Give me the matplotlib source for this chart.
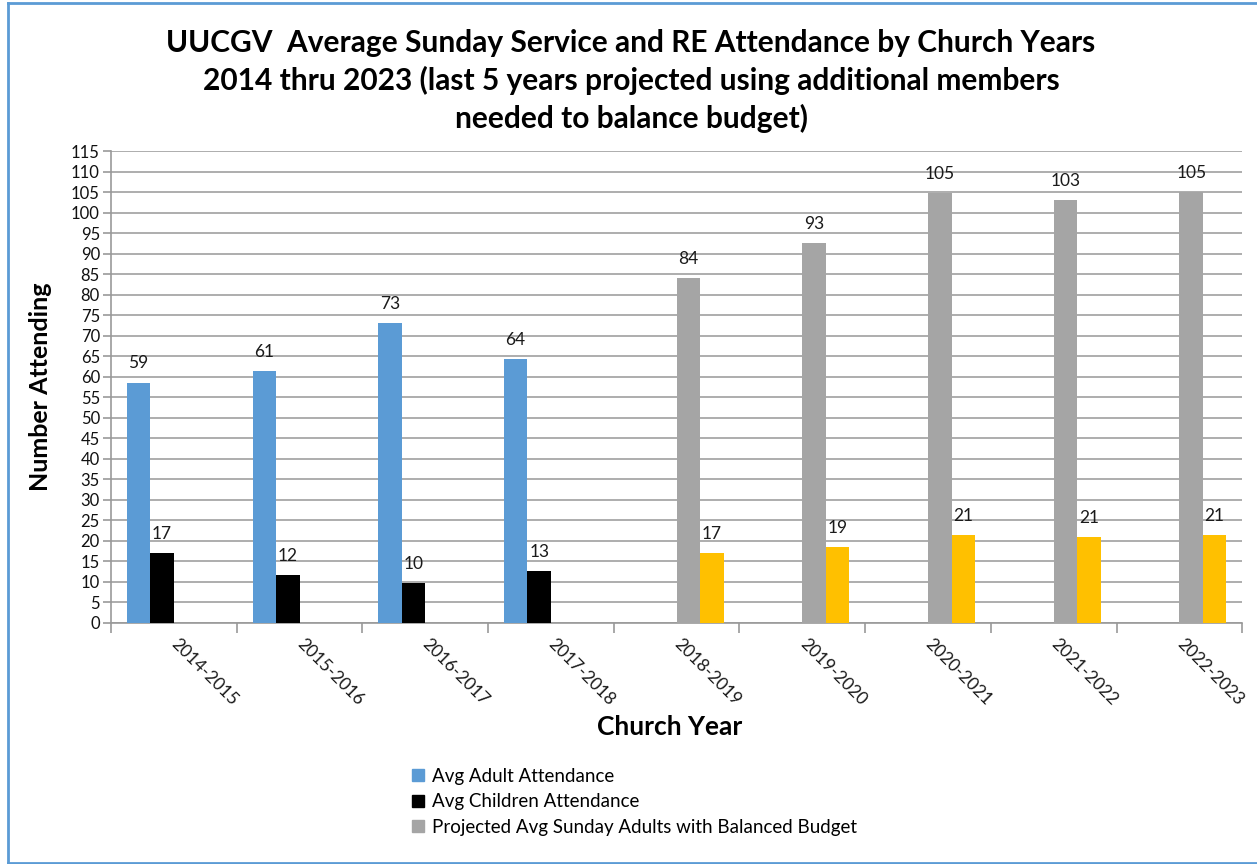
import numpy as np
import matplotlib
matplotlib.use("Agg")
import matplotlib.pyplot as plt
from matplotlib.lines import Line2D
from matplotlib.patches import Patch

categories = ["2014-2015", "2015-2016", "2016-2017", "2017-2018", "2018-2019",
              "2019-2020", "2020-2021", "2021-2022", "2022-2023"]
adult = [58.6, 61.3, 73.2, 64.4, None, None, None, None, None]
children = [17.0, 11.6, 9.8, 12.6, None, None, None, None, None]
proj_adult = [None, None, None, None, 84.1, 92.6, 104.8, 103.1, 105.0]
proj_children = [None, None, None, None, 17.0, 18.6, 21.4, 21.0, 21.4]
series_names = ["Avg Adult Attendance", "Avg Children Attendance",
                "Projected Avg Sunday Adults with Balanced Budget", "Projected Avg Sunday Children"]
colors = ["#5B9BD5", "#000000", "#A5A5A5", "#FFC000"]

plt.rcParams['font.family'] = ['Lato', 'DejaVu Sans']

fig = plt.figure(figsize=(12.57, 8.64), dpi=100)
ax = fig.add_axes([0.0883, 0.279, 0.9, 0.546])

x = np.arange(len(categories))
w = 0.187
offsets = [-1.5 * w, -0.5 * w, 0.5 * w, 1.5 * w]
all_series = [adult, children, proj_adult, proj_children]
handles = []
for s, off, c, name in zip(all_series, offsets, colors, series_names):
    vals = np.array([np.nan if v is None else v for v in s], dtype=float)
    ax.bar(x + off, vals, width=w, color=c, zorder=3)
    for xi, v in zip(x, vals):
        if not np.isnan(v):
            ax.annotate(f"{v:.0f}", (xi + off, v), xytext=(0, 8), textcoords="offset points",
                        ha="center", va="bottom", fontsize=12.5, color="#1a1a1a")
    handles.append(Patch(color=c, label=name))

ax.set_xlim(-0.5, len(categories) - 0.5)
ax.set_ylim(0, 115)
ax.set_yticks(np.arange(0, 116, 5))
ax.tick_params(axis='y', labelsize=12, length=6, color="#999999", width=1.2, pad=2,
               labelcolor="#111111")
ax.yaxis.grid(True, color="#A0A0A0", linewidth=1.2, zorder=0)
ax.set_axisbelow(True)

ax.set_xticks(np.arange(-0.5, len(categories), 1.0))
ax.set_xticklabels([])
ax.tick_params(axis='x', length=7, color="#999999", width=1.2)
for xi, lab in zip(x, categories):
    ax.text(xi, -4.5, lab, rotation=-45, rotation_mode="anchor", ha="left", va="center",
            fontsize=12.5, color="#1a1a1a", transform=ax.transData, clip_on=False)

for sp in ["top", "right"]:
    ax.spines[sp].set_visible(False)
ax.spines["left"].set_color("#999999")
ax.spines["bottom"].set_color("#999999")
ax.spines["left"].set_linewidth(1.2)
ax.spines["bottom"].set_linewidth(1.2)

fig.text(0.502, 0.967, "UUCGV  Average Sunday Service and RE Attendance by Church Years\n"
         "2014 thru 2023 (last 5 years projected using additional members\n"
         "needed to balance budget)", ha="center", va="top", fontsize=21.5,
         fontweight="bold", linespacing=1.38)

fig.text(0.032, 0.552, "Number Attending", rotation=90, ha="center", va="center",
         fontsize=18, fontweight="bold")
fig.text(0.533, 0.159, "Church Year", ha="center", va="center", fontsize=19, fontweight="bold")

fig.legend(handles=handles[:3], loc="upper left", bbox_to_anchor=(0.322, 0.12),
           frameon=False, fontsize=13.5, handlelength=0.6, handleheight=0.6,
           handletextpad=0.45, labelspacing=0.45, borderaxespad=0)

border_color = "#5B9BD5"
fig.add_artist(Line2D([0.006, 0.006], [0.0015, 0.9965], color=border_color, lw=2, transform=fig.transFigure))
fig.add_artist(Line2D([0.006, 1.0], [0.9965, 0.9965], color=border_color, lw=2, transform=fig.transFigure))
fig.add_artist(Line2D([0.006, 1.0], [0.0015, 0.0015], color=border_color, lw=2, transform=fig.transFigure))

fig.savefig("out.png", dpi=100)
